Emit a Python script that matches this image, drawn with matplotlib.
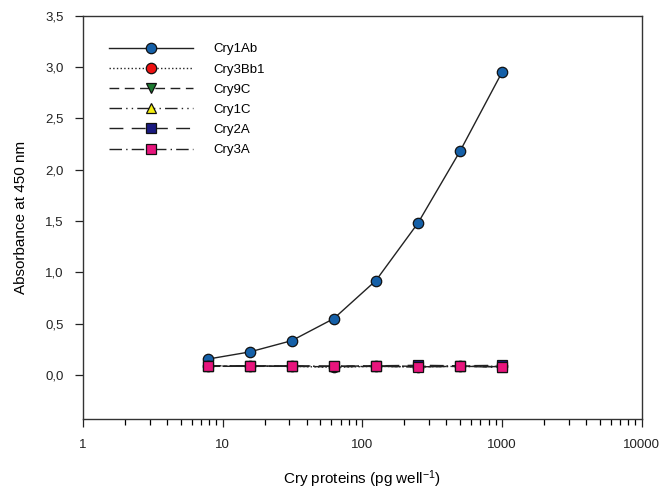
import matplotlib
matplotlib.use('Agg')
import matplotlib.pyplot as plt
from matplotlib.ticker import FixedLocator, FuncFormatter, LogLocator, NullFormatter

plt.rcParams['font.family'] = ['Liberation Sans', 'DejaVu Sans']
plt.rcParams['mathtext.default'] = 'regular'

# concentrations (pg well^-1)
conc = [7.8125, 15.625, 31.25, 62.5, 125, 250, 500, 1000]

# absorbance at 450 nm
cry1ab = [0.155, 0.225, 0.335, 0.55, 0.92, 1.48, 2.18, 2.95]
cry3bb1 = [0.09, 0.085, 0.085, 0.075, 0.085, 0.08, 0.085, 0.085]
cry9c = [0.085, 0.085, 0.085, 0.08, 0.085, 0.08, 0.085, 0.08]
cry1c = [0.09, 0.09, 0.085, 0.085, 0.09, 0.085, 0.09, 0.08]
cry2a = [0.09, 0.09, 0.09, 0.085, 0.09, 0.095, 0.09, 0.095]
cry3a = [0.085, 0.085, 0.085, 0.085, 0.085, 0.08, 0.085, 0.075]

labels = ['Cry1Ab', 'Cry3Bb1', 'Cry9C', 'Cry1C', 'Cry2A', 'Cry3A']
series = [cry1ab, cry3bb1, cry9c, cry1c, cry2a, cry3a]
styles = [
    ('-', 'o', '#1560a8'),
    (':', 'o', '#ee1111'),
    ((0, (7, 4)), 'v', '#1c7a30'),
    ((0, (9, 3, 1, 3, 1, 3)), '^', '#f4ee10'),
    ((0, (10, 6)), 's', '#1a1a80'),
    ((0, (9, 3, 1, 3)), 's', '#e8157d'),
]

fig = plt.figure(figsize=(6.63, 4.92), dpi=100)
ax = fig.add_axes([0.125, 0.148, 0.843, 0.82])

for vals, lab, (ls, mk, col) in zip(series, labels, styles):
    ax.plot(conc, vals, linestyle=ls, color='#222222', linewidth=1.0,
            marker=mk, markersize=7.5, markerfacecolor=col,
            markeredgecolor='#111111', markeredgewidth=0.9, label=lab)

ax.set_xscale('log')
ax.set_xlim(1, 10000)
ax.set_ylim(-0.43, 3.5)
ax.xaxis.set_major_locator(FixedLocator([1, 10, 100, 1000, 10000]))
ax.xaxis.set_major_formatter(FuncFormatter(lambda v, p: '%d' % v))
ax.xaxis.set_minor_locator(LogLocator(base=10, subs=range(2, 10)))
ax.xaxis.set_minor_formatter(NullFormatter())
ax.set_yticks([0, 0.5, 1.0, 1.5, 2.0, 2.5, 3.0, 3.5])
ax.yaxis.set_major_formatter(FuncFormatter(lambda v, p: ('%.1f' % v).replace('.', ',')))

ax.tick_params(axis='both', which='major', direction='out', length=6, width=0.9,
               labelsize=9.5, colors='#222222', pad=8)
ax.tick_params(axis='x', which='minor', direction='out', length=4, width=0.9)
for s in ax.spines.values():
    s.set_linewidth(1.0)
    s.set_color('#333333')

ax.set_xlabel('Cry proteins (pg well$^{-1}$)', fontsize=11, labelpad=13)
ax.set_ylabel('Absorbance at 450 nm', fontsize=11, labelpad=12)

ax.legend(loc='upper left', bbox_to_anchor=(0.03, 0.955), frameon=False,
          fontsize=9.5, handlelength=6.4, handletextpad=1.5,
          labelspacing=0.6, borderaxespad=0.3)

fig.savefig('out.png', dpi=100)
